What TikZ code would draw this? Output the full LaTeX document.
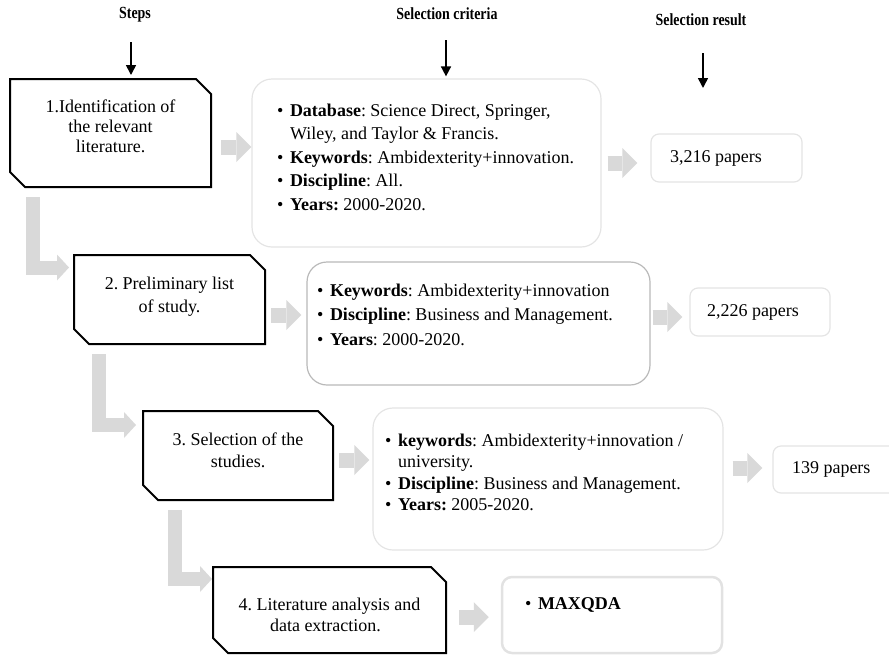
\documentclass[tikz,border=0pt]{standalone}
\usepackage{fontspec}
\setmainfont{Liberation Serif}
\newfontfamily\headfont[FakeStretch=0.82]{Liberation Serif}
\usetikzlibrary{positioning,calc,shapes.misc,arrows.meta}
\definecolor{arrowgray}{RGB}{217,217,217}
\definecolor{paleline}{RGB}{228,228,228}
\definecolor{midline}{RGB}{185,185,185}
\frenchspacing
\newcommand{\boxbody}[4]{\parbox[c][#2][t]{#1}{\vspace*{#3}#4\par}}
\newcommand{\itm}{\makebox[13pt][l]{\textbullet}}

\begin{document}
\begin{tikzpicture}[x=1pt,y=-1pt,
  font=\fontsize{18}{21.5}\selectfont,
  stepbox/.style={chamfered rectangle, chamfered rectangle corners={north east,south west},
    chamfered rectangle xsep=7pt, chamfered rectangle ysep=8pt, draw, line width=2pt, inner sep=0pt},
  critbox/.style={draw=paleline, line width=1.2pt, rounded corners=20pt, inner sep=0pt},
  resbox/.style={draw=paleline, line width=1.2pt, rounded corners=8pt, inner sep=0pt},
  heading/.style={font=\headfont\bfseries\fontsize{17}{20}\selectfont, inner sep=0pt},
  downarrow/.style={line width=1.6pt, -{Triangle[length=10pt,width=10pt]}},
  blockarrow/.style={draw=arrowgray, line width=15pt, -{Triangle[length=15pt,width=30pt,line width=0pt]}},
  larrow/.style={draw=arrowgray, line width=14pt, line join=miter, -{Triangle[length=12pt,width=26pt,line width=0pt]}}
]
\useasboundingbox (0,0) rectangle (889,654);

% column headings
\node[heading] (hstep) at (135,15) {Steps};
\node[heading] (hcrit) at (447,14) {Selection criteria};
\node[heading] (hres) at (701,20) {Selection result};

% steps (chamfer adds 7pt / 8pt round the body)
\node[stepbox] (s1) at (110.5,133) {\boxbody{187pt}{92pt}{13pt}{\centering\baselineskip=20pt
  1.Identification of\\the relevant\\literature.}};
\node[stepbox] (s2) at (169.5,299.5) {\boxbody{177pt}{73pt}{14pt}{\centering\baselineskip=23.5pt
  2. Preliminary list\\of study.}};
\node[stepbox] (s3) at (238,455.5) {\boxbody{176pt}{73pt}{14pt}{\centering\baselineskip=22pt
  3. Selection of the\\studies.}};
\node[stepbox] (s4) at (329.5,610) {\boxbody{219pt}{70pt}{23pt}{\centering\baselineskip=21.5pt
  4. Literature analysis and\\data extraction.\hspace*{8pt}}};

% criteria
\node[critbox] (c1) at (426.5,163) {\boxbody{349pt}{168pt}{25pt}{\leftskip=25pt\baselineskip=23.5pt
  \itm\textbf{Database}: Science Direct, Springer,\\
  \hspace*{13pt}Wiley, and Taylor \& Francis.\\
  \itm\textbf{Keywords}: Ambidexterity+innovation.\\
  \itm\textbf{Discipline}: All.\\
  \itm\textbf{Years:} 2000-2020.}};
\node[critbox, draw=midline] (c2) at (478.5,323.5) {\boxbody{343pt}{123pt}{22pt}{\leftskip=10pt\baselineskip=24.5pt
  \itm\textbf{Keywords}: Ambidexterity+innovation\\
  \itm\textbf{Discipline}: Business and Management.\\
  \itm\textbf{Years}: 2000-2020.}};
\node[critbox] (c3) at (548,479) {\boxbody{350pt}{142pt}{26pt}{\leftskip=12pt
  \itm\textbf{keywords}: Ambidexterity+innovation /\\
  \hspace*{13pt}university.\\
  \itm\textbf{Discipline}: Business and Management.\\
  \itm\textbf{Years:} 2005-2020.}};
\node[critbox, rounded corners=10pt, line width=2.5pt, draw={rgb,255:red,226;green,226;blue,226}] (m4) at (612,615)
  {\boxbody{220pt}{76pt}{21pt}{\leftskip=23pt \itm\textbf{MAXQDA}}};

% results
\node[resbox] (r1) at (726.5,158) {\parbox[c][48pt][c]{151pt}{\hspace*{19pt}3,216 papers}};
\node[resbox] (r2) at (760,312) {\parbox[c][48pt][c]{140pt}{\hspace*{17pt}2,226 papers}};
\node[resbox] (r3) at (840.5,469.5) {\parbox[c][47pt][c]{135pt}{\hspace*{19pt}139 papers}};

% heading arrows
\coordinate (rtip) at ($(hres.center)+(2,68)$);
\draw[downarrow] ($(hstep.center)+(-4,27)$) -- ($(hstep.center |- s1.north)+(-4,-3)$);
\draw[downarrow] ($(hcrit.center)+(-1,26)$) -- ($(hcrit.center |- c1.north)+(-1,-2)$);
\draw[downarrow] ($(hres.center)+(2,33)$) -- (rtip);

% step to criteria to result
\draw[blockarrow] ($(s1.east)+(9,14)$) -- ($(s1.east -| c1.west)+(0,14)$);
\draw[blockarrow] ($(c1.east)+(6,0)$) -- ($(c1.east -| r1.west)+(-13,0)$);
\draw[blockarrow] ($(s2.east)+(5,15.5)$) -- ($(s2.east -| c2.west)+(-5,15.5)$);
\draw[blockarrow] ($(c2.east)+(2,-6.5)$) -- ($(c2.east -| r2.west)+(-7,-6.5)$);
\draw[blockarrow] ($(s3.east)+(5,4.5)$) -- ($(s3.east -| c3.west)+(-3,4.5)$);
\draw[blockarrow] ($(c3.east)+(9,-11)$) -- ($(c3.east -| r3.west)+(-10,-11)$);
\draw[blockarrow] ($(s4.east)+(12,7)$) -- ($(s4.east -| m4.west)+(-12,7)$);

% step to step
\draw[larrow] ($(s1.west |- s1.south)+(23.5,9)$) |- ($(s2.west |- s2.north)+(-4,13.5)$);
\draw[larrow] ($(s2.west |- s2.south)+(26,9)$) |- ($(s3.west |- s3.north)+(-6,15)$);
\draw[larrow] ($(s3.west |- s3.south)+(32.5,9)$) |- ($(s4.west |- s4.north)+(0,13)$);
\end{tikzpicture}
\end{document}
